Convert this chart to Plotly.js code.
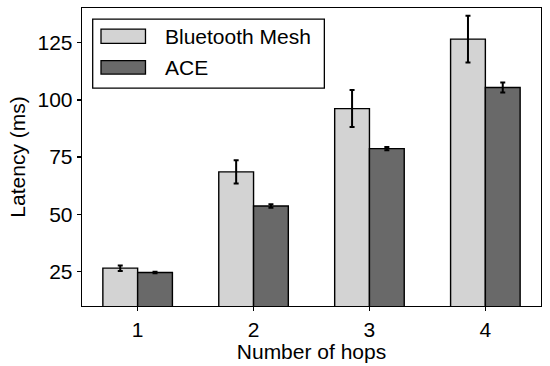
<!DOCTYPE html>
<html>
<head>
<meta charset="utf-8">
<script src="https://cdn.plot.ly/plotly-3.0.1.min.js"></script>
<style>html,body{margin:0;padding:0;background:#fff}#chart{width:550px;height:366px}</style>
</head>
<body>
<div id="chart"></div>
<script>
const hops = [1, 2, 3, 4];
const seriesNames = ["Bluetooth Mesh", "ACE"];
const meshLatency = [26.4, 68.5, 96.2, 126.6];
const meshError = [1.2, 5.1, 8.1, 10.2];
const aceLatency = [24.5, 53.6, 78.7, 105.4];
const aceError = [0.3, 0.8, 0.7, 2.2];
const yTicks = [25, 50, 75, 100, 125];
const colors = ["#d3d3d3", "#696969"];

const font = {family: "Liberation Sans, Arial, sans-serif", size: 21, color: "#000"};

function barTrace(name, y, err, color) {
  return {
    type: "bar", name: name, x: hops, y: y,
    marker: {color: color, line: {color: "#000", width: 1.4}},
    error_y: {type: "data", array: err, visible: true, color: "#000", thickness: 2, width: 2.5},
    showlegend: false
  };
}

const data = [
  barTrace(seriesNames[0], meshLatency, meshError, colors[0]),
  barTrace(seriesNames[1], aceLatency, aceError, colors[1])
];

// custom legend (matplotlib style)
const legRows = [{y0: 0.8814, y1: 0.9294, ty: 0.906}, {y0: 0.7782, y1: 0.8235, ty: 0.8017}];
const shapes = [{
  type: "rect", xref: "paper", yref: "paper", x0: 0.0233, x1: 0.528, y0: 0.731, y1: 0.963,
  line: {color: "#000", width: 1.3}, fillcolor: "#fff", layer: "above"
}];
const annotations = [];
seriesNames.forEach((n, i) => {
  shapes.push({type: "rect", xref: "paper", yref: "paper", x0: 0.0414, x1: 0.1383,
    y0: legRows[i].y0, y1: legRows[i].y1, line: {color: "#000", width: 1.3},
    fillcolor: colors[i], layer: "above"});
  annotations.push({xref: "paper", yref: "paper", x: 0.1774, y: legRows[i].ty,
    xanchor: "left", yanchor: "middle", text: n, showarrow: false, font: font});
});

const layout = {
  width: 550, height: 366,
  margin: {l: 82, r: 9, t: 8, b: 60},
  paper_bgcolor: "#fff", plot_bgcolor: "#fff",
  font: font,
  barmode: "group", bargap: 0.4, bargroupgap: 0,
  xaxis: {
    range: [0.52, 4.48], tickvals: hops, ticktext: hops.map(String),
    showgrid: false, zeroline: false, showline: true, linecolor: "#000", linewidth: 1.3,
    mirror: true, ticks: "outside", ticklen: 4, tickwidth: 1.2, tickcolor: "#000",
    tickfont: font, title: {text: "Number of hops", font: font, standoff: 4}
  },
  yaxis: {
    range: [9.85, 140.2], tickvals: yTicks, ticktext: yTicks.map(String),
    showgrid: false, zeroline: false, showline: true, linecolor: "#000", linewidth: 1.3,
    mirror: true, ticks: "outside", ticklen: 4, tickwidth: 1.2, tickcolor: "#000",
    tickfont: font, title: {text: "Latency (ms)", font: font, standoff: 6}
  },
  shapes: shapes,
  annotations: annotations
};

Plotly.newPlot("chart", data, layout, {displayModeBar: false, staticPlot: true});
</script>
</body>
</html>
